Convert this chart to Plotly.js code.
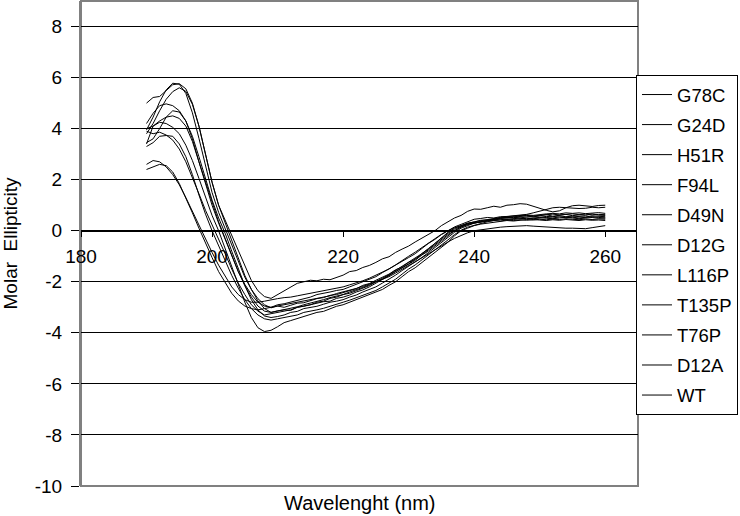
<!DOCTYPE html>
<html>
<head>
<meta charset="utf-8">
<script src="https://cdn.plot.ly/plotly-3.0.1.min.js"></script>
<style>html,body{margin:0;padding:0;background:#fff;}#chart{width:740px;height:516px;}</style>
</head>
<body>
<div id="chart"></div>
<script>
var wavelength = [190,191,192,193,194,195,196,197,198,199,200,201,202,203,204,205,206,207,208,209,210,211,212,213,214,215,216,217,218,219,220,221,222,223,224,225,226,227,228,229,230,231,232,233,234,235,236,237,238,239,240,241,242,243,244,245,246,247,248,249,250,251,252,253,254,255,256,257,258,259,260];

var G78C = [3.95,4.45,5.05,5.52,5.78,5.74,5.38,4.62,3.62,2.5, 1.5,0.72,0.08,-0.57,-1.2,-1.82,-2.3,-2.66,-2.9,-3.02, -2.95,-3.0,-2.92,-2.84,-2.82,-2.74,-2.66,-2.62,-2.53,-2.5, -2.42,-2.33,-2.27,-2.14,-2.07,-1.94,-1.82,-1.7,-1.53,-1.42, -1.24,-1.12,-0.9,-0.72,-0.5,-0.27,-0.06,0.1,0.2,0.3, 0.34,0.41,0.42,0.47,0.5,0.53,0.49,0.56,0.58,0.54, 0.6,0.63,0.57,0.6,0.64,0.59,0.62,0.6,0.66,0.61,0.6];
var G24D = [5.0,5.22,5.26,5.5,5.72,5.76,5.56,5.0,4.1,3.0, 1.9,1.0,0.4,-0.2,-0.8,-1.4,-1.95,-2.35,-2.58,-2.65, -2.5,-2.36,-2.2,-2.06,-2.0,-1.94,-1.96,-1.9,-1.92,-1.84, -1.74,-1.6,-1.56,-1.44,-1.36,-1.24,-1.1,-1.02,-0.85,-0.72, -0.6,-0.44,-0.3,-0.16,0.0,0.2,0.36,0.5,0.6,0.76, 0.85,0.84,0.9,0.96,0.92,1.0,1.02,1.06,1.04,0.95, 0.88,0.8,0.74,0.78,0.9,0.98,1.0,0.96,0.95,0.99,1.0];
var H51R = [3.8,4.2,4.7,5.15,5.45,5.6,5.46,4.95,4.1,3.0, 1.9,1.0,0.3,-0.4,-1.1,-1.75,-2.3,-2.75,-3.05,-3.2, -3.14,-3.1,-3.12,-3.0,-2.96,-2.9,-2.86,-2.78,-2.76,-2.65, -2.6,-2.52,-2.4,-2.32,-2.2,-2.06,-1.9,-1.76,-1.6,-1.46, -1.3,-1.16,-0.95,-0.8,-0.6,-0.4,-0.2,0.0,0.14,0.24, 0.3,0.36,0.4,0.42,0.46,0.44,0.48,0.5,0.47,0.5, 0.52,0.49,0.47,0.5,0.53,0.5,0.47,0.5,0.52,0.49,0.5];
var F94L = [4.2,4.6,4.9,4.97,4.9,4.7,4.3,3.7,2.9,2.0, 1.2,0.5,-0.1,-0.8,-1.5,-2.15,-2.7,-3.1,-3.34,-3.4, -3.36,-3.3,-3.2,-3.16,-3.05,-3.0,-2.96,-2.88,-2.8,-2.76, -2.7,-2.6,-2.52,-2.4,-2.3,-2.2,-2.05,-1.9,-1.74,-1.56, -1.4,-1.24,-1.05,-0.86,-0.66,-0.45,-0.26,-0.06,0.1,0.2, 0.3,0.34,0.4,0.44,0.48,0.5,0.52,0.5,0.54,0.55, 0.53,0.56,0.55,0.58,0.55,0.57,0.56,0.54,0.58,0.56,0.55];
var D49N = [3.45,3.6,4.0,4.45,4.7,4.65,4.3,3.6,2.7,1.8, 1.0,0.3,-0.35,-1.0,-1.6,-2.1,-2.5,-2.8,-2.95,-3.0, -2.9,-2.86,-2.8,-2.72,-2.65,-2.6,-2.5,-2.46,-2.4,-2.34, -2.3,-2.2,-2.1,-2.0,-1.9,-1.8,-1.64,-1.5,-1.36,-1.2, -1.05,-0.9,-0.7,-0.5,-0.34,-0.15,0.0,0.15,0.25,0.36, 0.45,0.48,0.52,0.5,0.55,0.56,0.58,0.6,0.64,0.7, 0.76,0.84,0.9,0.92,0.9,0.9,0.87,0.88,0.92,0.9,0.92];
var D12G = [3.4,4.1,4.25,4.2,4.05,3.8,3.35,2.75,2.05,1.3, 0.6,0.0,-0.7,-1.4,-2.1,-2.8,-3.4,-3.8,-3.95,-3.9, -3.76,-3.6,-3.52,-3.44,-3.36,-3.3,-3.2,-3.16,-3.05,-2.96, -2.9,-2.8,-2.72,-2.6,-2.5,-2.42,-2.3,-2.14,-2.0,-1.8, -1.6,-1.45,-1.25,-1.05,-0.86,-0.65,-0.45,-0.2,0.0,0.1, 0.2,0.26,0.3,0.34,0.36,0.4,0.38,0.42,0.44,0.42, 0.45,0.43,0.46,0.44,0.47,0.45,0.43,0.46,0.44,0.46,0.45];
var L116P = [3.9,3.8,3.86,3.75,3.55,3.2,2.7,2.1,1.45,0.8, 0.25,-0.3,-0.9,-1.5,-2.05,-2.5,-2.9,-3.15,-3.3,-3.25, -3.2,-3.16,-3.1,-3.0,-2.95,-2.9,-2.8,-2.76,-2.65,-2.6, -2.5,-2.45,-2.35,-2.25,-2.15,-2.0,-1.9,-1.75,-1.6,-1.45, -1.3,-1.1,-0.95,-0.75,-0.55,-0.35,-0.15,0.0,0.15,0.25, 0.3,0.36,0.42,0.45,0.5,0.52,0.55,0.56,0.6,0.58, 0.6,0.62,0.65,0.62,0.64,0.66,0.63,0.65,0.62,0.64,0.63];
var T135P = [3.3,3.45,3.7,3.73,3.7,3.4,2.9,2.2,1.4,0.65, 0.0,-0.6,-1.2,-1.75,-2.25,-2.7,-3.05,-3.3,-3.45,-3.5, -3.45,-3.4,-3.36,-3.3,-3.2,-3.16,-3.1,-3.04,-2.95,-2.86, -2.8,-2.72,-2.62,-2.55,-2.44,-2.34,-2.2,-2.06,-1.9,-1.7, -1.5,-1.34,-1.15,-0.96,-0.76,-0.55,-0.36,-0.15,0.02,0.14, 0.22,0.3,0.35,0.4,0.42,0.46,0.44,0.48,0.5,0.47, 0.5,0.52,0.5,0.54,0.51,0.53,0.5,0.52,0.55,0.52,0.5];
var T76P = [2.6,2.75,2.7,2.5,2.2,1.8,1.3,0.75,0.2,-0.3, -0.85,-1.35,-1.8,-2.2,-2.5,-2.7,-2.8,-2.8,-2.76,-2.7, -2.66,-2.62,-2.6,-2.55,-2.5,-2.46,-2.4,-2.36,-2.3,-2.26, -2.2,-2.12,-2.05,-1.96,-1.86,-1.75,-1.64,-1.5,-1.34,-1.16, -1.0,-0.84,-0.66,-0.5,-0.3,-0.14,0.0,0.12,0.2,0.28, 0.32,0.35,0.38,0.4,0.38,0.42,0.4,0.43,0.41,0.44, 0.42,0.4,0.43,0.41,0.44,0.42,0.4,0.43,0.41,0.42,0.4];
var D12A = [2.4,2.5,2.6,2.55,2.3,1.85,1.3,0.7,0.1,-0.5, -1.05,-1.6,-2.05,-2.45,-2.75,-2.95,-3.05,-3.1,-3.05,-3.0, -2.95,-2.92,-2.86,-2.8,-2.76,-2.7,-2.66,-2.6,-2.55,-2.46, -2.4,-2.34,-2.26,-2.18,-2.1,-2.0,-1.9,-1.8,-1.66,-1.5, -1.36,-1.22,-1.06,-0.9,-0.74,-0.58,-0.44,-0.3,-0.18,-0.08, 0.0,0.04,0.08,0.1,0.14,0.16,0.18,0.2,0.2,0.18, 0.16,0.14,0.12,0.12,0.1,0.1,0.09,0.08,0.12,0.16,0.2];
var WT = [4.0,4.1,4.3,4.45,4.5,4.4,4.1,3.5,2.7,1.9, 1.1,0.35,-0.3,-0.95,-1.6,-2.15,-2.6,-2.95,-3.15,-3.2, -3.15,-3.1,-3.04,-2.98,-2.9,-2.84,-2.76,-2.7,-2.62,-2.56, -2.5,-2.4,-2.32,-2.22,-2.12,-2.0,-1.86,-1.72,-1.56,-1.4, -1.25,-1.08,-0.9,-0.7,-0.5,-0.3,-0.1,0.06,0.18,0.28, 0.35,0.4,0.45,0.48,0.52,0.55,0.58,0.6,0.62,0.6, 0.64,0.66,0.68,0.66,0.7,0.68,0.7,0.67,0.69,0.71,0.68];

var seriesNames = ["G78C","G24D","H51R","F94L","D49N","D12G","L116P","T135P","T76P","D12A","WT"];
var seriesValues = [G78C,G24D,H51R,F94L,D49N,D12G,L116P,T135P,T76P,D12A,WT];
var xTicks = [180,200,220,240,260];
var yTicks = [-10,-8,-6,-4,-2,0,2,4,6,8];

var FONT = "Liberation Sans, Arial, sans-serif";

var traces = seriesNames.map(function(n, i){
  return {
    type: "scatter", mode: "lines", name: n, legendgroup: n,
    x: wavelength, y: seriesValues[i],
    line: {color: "#000", width: 1}
  };
});

var layout = {
  width: 740, height: 516,
  margin: {l: 81, r: 102, t: 1, b: 30, pad: 0},
  paper_bgcolor: "#fff", plot_bgcolor: "#fff",
  font: {family: FONT, size: 19, color: "#000"},
  showlegend: true,
  legend: {
    x: 0.9964, y: 0.8474, xanchor: "left", yanchor: "top",
    bordercolor: "#000", borderwidth: 1, bgcolor: "#fff",
    font: {family: FONT, size: 18.5, color: "#000"},
    traceorder: "grouped", tracegroupgap: 3
  },
  xaxis: {
    range: [180, 265], tickvals: xTicks, ticktext: xTicks.map(String),
    anchor: "free", position: 10/19,
    showgrid: false, zeroline: false,
    showline: true, linecolor: "#000", linewidth: 1,
    ticks: "outside", ticklen: 5, tickcolor: "#000", tickwidth: 1,
    ticklabelstandoff: 3,
    tickfont: {family: FONT, size: 19, color: "#000"}
  },
  yaxis: {
    range: [-10, 9], tickvals: yTicks, ticktext: yTicks.map(String),
    showgrid: true, gridcolor: "#000", gridwidth: 1,
    zeroline: false,
    showline: true, linecolor: "#808080", linewidth: 2,
    ticks: "outside", ticklen: 8, tickcolor: "#000", tickwidth: 1,
    ticklabelstandoff: 5,
    tickfont: {family: FONT, size: 19, color: "#000"},
    title: {text: "Molar  Ellipticity", font: {family: FONT, size: 19, color: "#000"}, standoff: 18}
  },
  shapes: [
    {type: "rect", xref: "paper", yref: "paper", x0: 0, x1: 1, y0: 0, y1: 1,
     line: {color: "#808080", width: 2}, layer: "below"}
  ],
  annotations: [
    {text: "Wavelenght (nm)", xref: "paper", yref: "paper", x: 0.5, y: 0, yshift: -17,
     xanchor: "center", yanchor: "middle", showarrow: false,
     font: {family: FONT, size: 20, color: "#000"}}
  ]
};

Plotly.newPlot("chart", traces, layout, {displayModeBar: false, staticPlot: true});
</script>
</body>
</html>
